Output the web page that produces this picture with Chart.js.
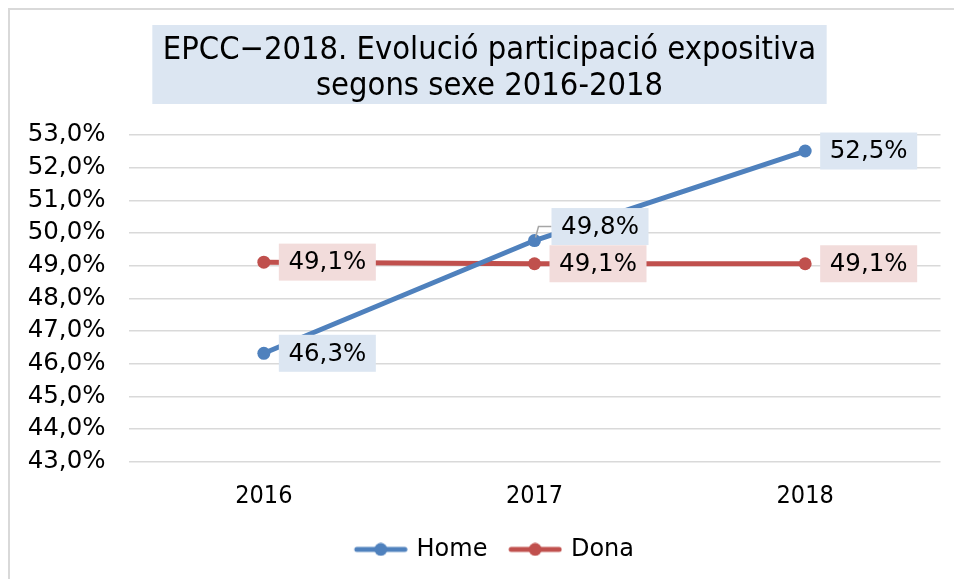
<!DOCTYPE html>
<html><head><meta charset="utf-8">
<script src="https://cdn.jsdelivr.net/npm/chart.js@4/dist/chart.umd.min.js"></script>
<style>html,body{margin:0;padding:0;background:#fff;}#wrap{position:relative;width:954px;height:579px;}</style>
</head><body><div id="wrap"><canvas id="c" width="954" height="579"></canvas></div>
<script>
// ---- data ----
const categories = ['2016', '2017', '2018'];
const homeValues = [46.32, 49.77, 52.51];
const donaValues = [49.11, 49.06, 49.06];
const seriesNames = ['Home', 'Dona'];
const titleLines = ['EPCC\u22122018. Evolució participació expositiva', 'segons sexe 2016-2018'];
const yMin = 43, yMax = 53, yStep = 1;

// ---- styles ----
const COLORS = { home: '#4f81bd', dona: '#c0504d' };
const LABEL_BG = ['#dce6f2', '#f2dcdb'];
const SANS = 'DejaVu Sans';
const COND = 'DejaVu Sans Condensed, DejaVu Sans';
const fmt = v => v.toFixed(1).replace('.', ',') + '%';
const labelShift = { '0-1': { dy: -14, dx: 2, leader: true } };

function makeMarker(color) {
  // marker drawn in the right 54px of a 68px canvas
  const c = document.createElement('canvas');
  c.width = 68; c.height = 14;
  const g = c.getContext('2d');
  const x0 = 14;
  g.strokeStyle = color; g.lineWidth = 5; g.lineCap = 'round';
  g.beginPath(); g.moveTo(x0 + 3, 7); g.lineTo(x0 + 51, 7); g.stroke();
  g.fillStyle = color; g.beginPath(); g.arc(x0 + 27, 7, 6.5, 0, Math.PI * 2); g.fill();
  return c;
}

const framePlugin = {
  id: 'frame',
  afterLayout(chart) {
    const tb = chart.titleBlock;
    tb.left = 25; tb.right = chart.width;
    const lg = chart.legend;
    lg.left = 23; lg.right = chart.width;
  },
  beforeDraw(chart) {
    const ctx = chart.ctx;
    ctx.save();
    ctx.fillStyle = '#fff';
    ctx.fillRect(0, 0, chart.width, chart.height);
    ctx.strokeStyle = '#d9d9d9'; ctx.lineWidth = 2;
    ctx.beginPath(); ctx.moveTo(9, chart.height); ctx.lineTo(9, 9); ctx.lineTo(chart.width, 9); ctx.stroke();
    const tb = chart.titleBlock;
    const o = tb.options;
    ctx.font = o.font.size + 'px ' + COND;
    let w = 0;
    titleLines.forEach(t => { w = Math.max(w, ctx.measureText(t).width); });
    const cx = (tb.left + tb.right) / 2;
    ctx.fillStyle = '#dce6f2';
    ctx.fillRect(cx - w / 2 - 10.5, tb.top + 25, w + 21, 79);
    ctx.restore();
  }
};

const labelPlugin = {
  id: 'boxLabels',
  afterDatasetsDraw(chart) {
    const ctx = chart.ctx;
    ctx.save();
    ctx.font = '24.5px ' + SANS;
    ctx.textBaseline = 'middle';
    ctx.textAlign = 'center';
    chart.data.datasets.forEach((ds, di) => {
      const meta = chart.getDatasetMeta(di);
      meta.data.forEach((pt, i) => {
        const s = labelShift[di + '-' + i] || { dy: 0, dx: 0 };
        const text = fmt(ds.data[i]);
        const bw = 97, bh = 37;
        const bx = pt.x + 15 + s.dx;
        const cy = pt.y + s.dy;
        if (s.leader) {
          ctx.strokeStyle = '#a6a6a6'; ctx.lineWidth = 1.5;
          ctx.beginPath(); ctx.moveTo(pt.x + 1, pt.y - 3); ctx.lineTo(pt.x + 4, cy); ctx.lineTo(bx, cy); ctx.stroke();
        }
        ctx.fillStyle = LABEL_BG[di];
        ctx.fillRect(bx, cy - bh / 2, bw, bh);
        ctx.fillStyle = '#000';
        ctx.fillText(text, bx + bw / 2, cy + 1);
      });
    });
    ctx.restore();
  }
};

new Chart(document.getElementById('c'), {
  type: 'line',
  data: {
    labels: categories,
    datasets: [
      { label: seriesNames[0], data: homeValues, borderColor: COLORS.home, backgroundColor: COLORS.home,
        borderWidth: 5, pointRadius: 6.5, pointBorderWidth: 0, pointBackgroundColor: COLORS.home, tension: 0, fill: false },
      { label: seriesNames[1], data: donaValues, borderColor: COLORS.dona, backgroundColor: COLORS.dona,
        borderWidth: 5, pointRadius: 6.5, pointBorderWidth: 0, pointBackgroundColor: COLORS.dona, tension: 0, fill: false }
    ]
  },
  options: {
    responsive: false,
    animation: false,
    devicePixelRatio: 1,
    layout: { padding: { left: 0, right: 13.5, top: 0, bottom: 7.6 } },
    plugins: {
      title: {
        display: true, text: titleLines, color: '#000',
        font: { family: COND, size: 32.4, weight: 'normal', lineHeight: 36 / 32.4 },
        padding: { top: 33, bottom: 30 }
      },
      legend: {
        position: 'bottom',
        labels: {
          font: { family: SANS, size: 24 }, color: '#000',
          usePointStyle: true, pointStyleWidth: 61.5, padding: 10,
          generateLabels(chart) {
            return chart.data.datasets.map((ds, i) => ({
              text: ds.label, pointStyle: makeMarker(ds.borderColor),
              fillStyle: ds.borderColor, strokeStyle: ds.borderColor, lineWidth: 0,
              hidden: false, datasetIndex: i, fontColor: '#000'
            }));
          }
        }
      },
      tooltip: { enabled: false }
    },
    scales: {
      x: {
        offset: true,
        grid: { display: false }, border: { display: false },
        ticks: { font: { family: COND, size: 25 }, color: '#000', padding: 12 },
        afterFit(s) { s.height = 65.6; }
      },
      y: {
        min: yMin, max: yMax,
        ticks: { stepSize: yStep, autoSkip: false, callback: v => fmt(v), font: { family: SANS, size: 24.5 }, color: '#000', padding: 23 },
        grid: { color: '#d9d9d9', lineWidth: 1.5, drawTicks: false },
        border: { display: false },
        afterFit(s) { s.width = 128.5; }
      }
    }
  },
  plugins: [framePlugin, labelPlugin]
});
</script></body></html>
